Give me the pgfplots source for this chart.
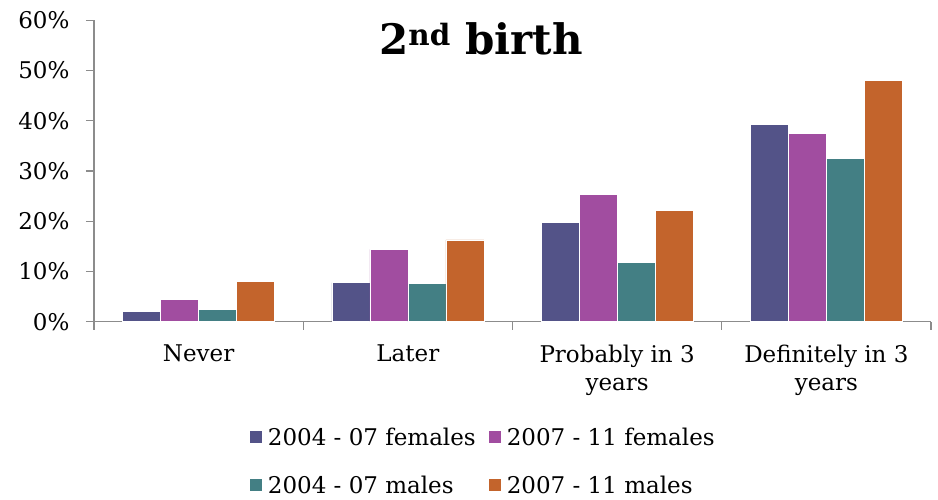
\documentclass[border=0pt]{standalone}
\usepackage{fontspec}
\setmainfont{DejaVu Serif}
\usepackage{pgfplots}
\pgfplotsset{compat=1.18}
\definecolor{cA}{HTML}{535388}
\definecolor{cB}{HTML}{A14DA0}
\definecolor{cC}{HTML}{437F84}
\definecolor{cD}{HTML}{C3642C}
\definecolor{axgray}{HTML}{8C8C8C}
\begin{document}
\begin{tikzpicture}[x=1pt,y=1pt]
\useasboundingbox (0,0) rectangle (938,500);
\node[font=\fontsize{42}{50}\selectfont\bfseries, anchor=base] at (481,445) {2\textsuperscript{nd} birth};
\begin{axis}[
  at={(94pt,178.3pt)}, anchor=south west,
  scale only axis, width=837pt, height=301.4pt,
  ymin=0, ymax=60, xmin=-0.5, xmax=3.5,
  ybar=0pt, bar width=38pt,
  axis lines*=left,
  axis line style={draw=axgray, line width=1.3pt},
  tick style={draw=axgray, line width=1.3pt},
  tick align=outside, major tick length=8pt,
  ytick={0,10,20,30,40,50,60},
  yticklabel={\pgfmathprintnumber{\tick}\%},
  xtick={-0.5,0.5,1.5,2.5,3.5}, xticklabels={},
  extra x ticks={0,1,2,3},
  extra x tick labels={Never,Later,{Probably in 3\\years},{Definitely in 3\\years}},
  extra x tick style={major tick length=0pt, xticklabel style={align=center, yshift=-20pt}},
  ticklabel style={font=\fontsize{23}{28}\selectfont},
  yticklabel style={xshift=-13pt},
  /pgf/number format/assume math mode=true,
  every axis plot/.append style={draw=white, line width=0.6pt},
  legend cell align=left,
  legend style={at={(0.186,-0.345)}, anchor=north west, draw=none, inner sep=0pt,
    font=\fontsize{23}{28}\selectfont, legend columns=2, row sep=25pt,
    /tikz/every even column/.append style={column sep=11pt},
    /tikz/every odd column/.append style={column sep=4pt}},
  legend image code/.code={\fill[#1,draw=none] (0pt,-6pt) rectangle (12pt,6pt);},
]
\addplot[fill=cA] coordinates {(0,2.0) (1,7.8) (2,19.7) (3,39.3)};
\addplot[fill=cB] coordinates {(0,4.5) (1,14.4) (2,25.4) (3,37.5)};
\addplot[fill=cC] coordinates {(0,2.4) (1,7.6) (2,11.8) (3,32.5)};
\addplot[fill=cD] coordinates {(0,8.0) (1,16.3) (2,22.1) (3,48.1)};
\legend{2004 - 07 females, 2007 - 11 females, 2004 - 07 males, 2007 - 11 males}
\end{axis}
\end{tikzpicture}
\end{document}
